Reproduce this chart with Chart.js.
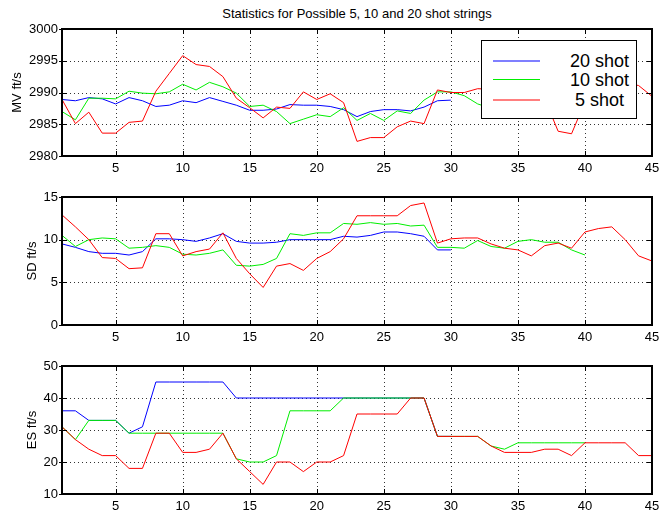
<!DOCTYPE html>
<html><head><meta charset="utf-8">
<script src="https://cdn.jsdelivr.net/npm/chart.js@4"></script>
<style>
html,body{margin:0;padding:0;background:#fff;}
body{width:659px;height:515px;overflow:hidden;position:relative;font-family:"Liberation Sans",Arial,sans-serif;color:#000;}
canvas{position:absolute;left:0;}
#title{position:absolute;top:6px;left:62px;width:590px;text-align:center;font-size:13px;line-height:15px;}
#legend{position:absolute;left:481px;top:40px;width:156px;height:79px;box-sizing:border-box;border:1px solid #000;background:#fff;}
#legend .ln{position:absolute;left:11px;width:47px;}
#legend .tx{position:absolute;left:88px;font-size:18px;line-height:20px;white-space:pre;}
</style>
</head><body>
<div id="title">Statistics for Possible 5, 10 and 20 shot strings</div>
<canvas id="c1" width="659" height="180" style="top:0px"></canvas>
<canvas id="c2" width="659" height="170" style="top:180px"></canvas>
<canvas id="c3" width="659" height="165" style="top:350px"></canvas>
<div id="legend">
  <div class="ln" style="top:19px;height:2px;background:#7f7fff"></div>
  <div class="ln" style="top:38px;height:1px;background:#00ee00"></div>
  <div class="ln" style="top:58px;height:2px;background:#ff7f7f"></div>
  <div class="tx" style="top:10px">20 shot</div>
  <div class="tx" style="top:29px">10 shot</div>
  <div class="tx" style="top:49px"> 5 shot</div>
</div>
<script>
// ---- data ----
const seriesNames = ['20 shot', '10 shot', ' 5 shot'];
const xTicks = [5, 10, 15, 20, 25, 30, 35, 40, 45];
const mvTicks = [2980, 2985, 2990, 2995, 3000];
const sdTicks = [0, 5, 10, 15];
const esTicks = [10, 20, 30, 40, 50];

const mv20 = [2988.9,2988.7,2989.2,2989.0,2988.2,2989.2,2988.7,2987.8,2988.0,2988.7,2988.4,2989.2,2988.6,2988.0,2987.2,2987.2,2987.4,2988.1,2988.0,2988.0,2987.8,2987.3,2986.2,2987.0,2987.3,2987.3,2987.1,2987.7,2988.7,2988.8];
const mv10 = [2987.0,2985.7,2989.1,2989.1,2989.0,2990.2,2989.9,2989.8,2990.1,2991.3,2990.4,2991.6,2990.9,2989.9,2987.8,2988.0,2987.0,2985.1,2985.8,2986.5,2986.2,2987.6,2985.6,2986.7,2985.6,2987.1,2986.7,2988.8,2990.1,2990.1,2989.5,2988.2,2987.5,2988.0,2988.5,2989.0,2988.5,2988.0,2988.5,2989.0];
const mv5 = [2988.9,2985.1,2986.9,2983.6,2983.6,2985.3,2985.5,2990.2,2993.0,2995.8,2994.4,2994.1,2992.5,2989.1,2987.6,2986.0,2987.7,2987.5,2990.1,2988.9,2989.8,2988.4,2982.3,2982.9,2982.9,2984.6,2985.5,2985.1,2990.4,2990.0,2990.0,2990.6,2990.5,2991.0,2990.0,2989.5,2989.0,2983.9,2983.5,2988.5,2990.0,2991.0,2991.5,2991.1,2989.4];

const sd20 = [9.5,9.1,8.6,8.4,8.4,8.2,8.6,10.1,10.1,10.0,9.8,10.2,10.7,9.8,9.6,9.6,9.7,10.0,10.0,10.0,10.0,10.4,10.3,10.5,10.9,10.9,10.7,10.4,8.8,8.8];
const sd10 = [10.5,9.2,10.0,10.2,10.1,9.0,9.1,9.3,9.1,8.3,8.2,8.4,8.8,7.0,6.9,7.1,7.8,10.7,10.5,10.8,10.8,11.9,11.8,12.0,11.8,11.9,11.6,11.7,9.1,9.1,9.0,9.9,9.2,9.0,9.8,10.0,9.7,9.7,8.8,8.2];
const sd5 = [12.9,11.5,10.0,7.9,7.8,6.6,6.7,10.7,10.7,8.1,8.6,8.9,10.8,7.8,6.0,4.4,6.9,7.2,6.4,7.8,8.6,10.1,12.8,12.8,12.8,12.8,14.0,14.3,9.6,10.1,10.2,10.2,9.5,9.0,8.8,8.1,9.3,9.6,9.0,10.9,11.3,11.5,10.0,8.1,7.5];

const es20 = [36,36,33,33,33,29,31,45,45,45,45,45,45,40,40,40,40,40,40,40,40,40,40,40,40,40,40,40,28,28];
const es10 = [31,27,33,33,33,29,29,29,29,29,29,29,29,21,20,20,22,36,36,36,36,40,40,40,40,40,40,40,28,28,28,28,25,24,26,26,26,26,26,26];
const es5 = [31,27,24,22,22,18,18,29,29,23,23,24,29,21,17,13,20,20,17,20,20,22,35,35,35,35,40,40,28,28,28,28,25,23,23,23,24,24,22,26,26,26,26,22,22];

const colors = ['#0000ff', '#00ee00', '#ff0000'];
const FONT = "'Liberation Sans', Arial, sans-serif";

const pts = arr => arr.map((v, i) => ({x: i + 1, y: v}));

const frame = {
  id: 'frame',
  beforeDatasetsDraw(chart) {
    const {ctx, chartArea: a, scales: {x, y}} = chart;
    ctx.save();
    ctx.strokeStyle = '#333';
    ctx.lineWidth = 1;
    ctx.setLineDash([1, 3]);
    ctx.beginPath();
    xTicks.forEach(v => {
      const px = Math.round(x.getPixelForValue(v)) + 0.5;
      ctx.moveTo(px, a.top); ctx.lineTo(px, a.bottom);
    });
    y.ticks.forEach(t => {
      const py = Math.round(y.getPixelForValue(t.value)) + 0.5;
      ctx.moveTo(a.left, py); ctx.lineTo(a.right, py);
    });
    ctx.stroke();
    ctx.restore();
  },
  afterDatasetsDraw(chart) {
    const {ctx, chartArea: a, scales: {x, y}} = chart;
    ctx.save();
    ctx.strokeStyle = '#000';
    ctx.setLineDash([]);
    ctx.lineWidth = 1;
    ctx.beginPath();
    const L = 5;
    xTicks.forEach(v => {
      const px = Math.round(x.getPixelForValue(v)) + 0.5;
      ctx.moveTo(px, a.top); ctx.lineTo(px, a.top + L);
      ctx.moveTo(px, a.bottom); ctx.lineTo(px, a.bottom - L);
    });
    y.ticks.forEach(t => {
      const py = Math.round(y.getPixelForValue(t.value)) + 0.5;
      ctx.moveTo(a.left - 3, py); ctx.lineTo(a.left + L, py);
      ctx.moveTo(a.right, py); ctx.lineTo(a.right - L, py);
    });
    ctx.stroke();
    ctx.lineWidth = 2;
    ctx.strokeRect(Math.round(a.left), Math.round(a.top), Math.round(a.right - a.left), Math.round(a.bottom - a.top));
    ctx.restore();
  }
};

function makeChart(id, data, yTicks, yTitle, padTop, xAxisH, titlePad) {
  const ds = data.map((arr, i) => ({
    label: seriesNames[i],
    data: pts(arr),
    borderColor: colors[i],
    backgroundColor: colors[i],
    borderWidth: 1,
    pointRadius: 0,
    tension: 0,
    fill: false,
    order: 2 - i
  }));
  return new Chart(document.getElementById(id), {
    type: 'line',
    data: {datasets: ds},
    options: {
      responsive: false,
      animation: false,
      devicePixelRatio: 1,
      layout: {padding: {left: 0, right: 7, top: padTop, bottom: 0}},
      plugins: {legend: {display: false}, tooltip: {enabled: false}, title: {display: false}},
      scales: {
        x: {
          type: 'linear', min: 1, max: 45,
          grid: {display: false, drawTicks: false},
          border: {display: false},
          ticks: {color: '#000', font: {family: FONT, size: 13}, padding: 5, maxRotation: 0, autoSkip: false,
                  callback: v => String(v)},
          afterBuildTicks: s => { s.ticks = xTicks.map(v => ({value: v})); },
          afterFit: s => { s.height = xAxisH; s.paddingLeft = 0; s.paddingRight = 0; }
        },
        y: {
          type: 'linear', min: yTicks[0], max: yTicks[yTicks.length - 1],
          grid: {display: false, drawTicks: false},
          border: {display: false},
          ticks: {color: '#000', font: {family: FONT, size: 13}, padding: 4, callback: v => String(v)},
          afterBuildTicks: s => { s.ticks = yTicks.map(v => ({value: v})); },
          afterFit: s => { s.width = 62; s.paddingTop = 0; s.paddingBottom = 0; },
          title: {display: true, text: yTitle, color: '#000', font: {family: FONT, size: 13}, padding: {top: titlePad, bottom: 0}}
        }
      }
    },
    plugins: [frame]
  });
}

makeChart('c1', [mv20, mv10, mv5], mvTicks, 'MV ft/s', 29, 24, 10);
makeChart('c2', [sd20, sd10, sd5], sdTicks, 'SD ft/s', 17, 25, 25);
makeChart('c3', [es20, es10, es5], esTicks, 'ES ft/s', 16, 21, 25);
</script>
</body></html>
